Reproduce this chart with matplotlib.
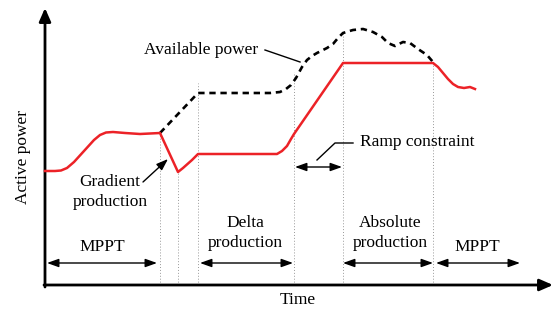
import matplotlib
matplotlib.use("Agg")
import matplotlib.pyplot as plt

# schematic units: t = time, p = active power (1 unit ~ 1 px)
red_t = [0, 10, 16, 22, 29, 39, 49, 55, 61, 68, 80, 95, 105, 115, 133, 138, 147, 153,
         232, 237, 242, 246, 249, 298, 388, 393, 398, 403, 408, 413, 419, 425, 430]
red_p = [114, 114, 114.5, 117, 123, 134, 145, 150, 152.5, 153, 152, 151, 151.5, 152, 113, 117, 125, 131,
         131, 134, 139, 146, 151, 222, 222, 218, 212, 206, 201, 198, 197, 198, 196]

avail_t = [115, 153, 225, 235, 241, 246, 251, 257, 262, 267, 272, 282, 288, 293, 298, 308,
           318, 328, 337, 343, 350, 358, 365, 373, 382, 388]
avail_p = [152, 192, 192, 193, 196, 200, 207, 218, 225, 229, 232, 237, 241, 247, 252, 255,
           256, 253, 248, 242, 239, 243, 242, 236, 230, 223]

# vertical dotted markers (time, top)
mark_t = [115, 133, 153, 249, 298, 388]
mark_top = [152, 113, 202, 213, 253, 223]

# operating mode spans
zone_labels = ["MPPT", "Delta\nproduction", "Absolute\nproduction", "MPPT"]
zone_start = [2, 155, 298, 391]
zone_end = [112, 248, 388, 475]
zone_center = [57, 200, 345, 432]

fig = plt.figure(figsize=(5.54, 3.11), dpi=100)
ax = fig.add_axes([0, 0, 1, 1])
ax.set_xlim(-45, 509)
ax.set_ylim(-26, 285)
ax.axis("off")

font = dict(family="Liberation Serif", fontsize=12.5, color="black")

# axes arrows
ax.annotate("", xy=(0, 277), xytext=(0, -2),
            arrowprops=dict(arrowstyle="-|>,head_length=0.8,head_width=0.35", lw=2,
                            color="black", shrinkA=0, shrinkB=0, mutation_scale=10))
ax.annotate("", xy=(508, 0), xytext=(-1, 0),
            arrowprops=dict(arrowstyle="-|>,head_length=0.8,head_width=0.35", lw=2,
                            color="black", shrinkA=0, shrinkB=0, mutation_scale=10))
ax.text(-22, 128, "Active power", rotation=90, ha="center", va="center", **font)
ax.text(253, -15, "Time", ha="center", va="center", **font)

# dotted markers
for t, top in zip(mark_t, mark_top):
    ax.plot([t, t], [0, top], color="#999999", lw=0.7, ls=(0, (1, 2)), zorder=1)

# curves
ax.plot(avail_t, avail_p, color="black", lw=1.9, dashes=(2.4, 1.8), zorder=2)
ax.plot(red_t, red_p, color="#ec2227", lw=1.8, zorder=3, solid_joinstyle="round")

# mode spans
arrow2 = dict(arrowstyle="<|-|>,head_length=0.7,head_width=0.25", lw=1.0, color="black",
              shrinkA=0, shrinkB=0, mutation_scale=10)
for s, e in zip(zone_start, zone_end):
    ax.annotate("", xy=(e, 22), xytext=(s, 22), arrowprops=arrow2)
for lab, c in zip(zone_labels, zone_center):
    ax.text(c, 52 if "\n" in lab else 38, lab, ha="center", va="center", linespacing=1.35, **font)

# ramp constraint
ax.annotate("", xy=(297, 118), xytext=(250, 118), arrowprops=arrow2)
ax.plot([272, 290, 308], [125, 142, 142], color="black", lw=1.0)
ax.text(315, 143, "Ramp constraint", ha="left", va="center", **font)

# available power label
ax.plot([220, 255], [235, 223], color="black", lw=1.0)
ax.text(99, 235, "Available power", ha="left", va="center", **font)

# gradient production
ax.annotate("", xy=(123, 126), xytext=(98, 103),
            arrowprops=dict(arrowstyle="-|>,head_length=0.7,head_width=0.25", lw=1.0,
                            color="black", shrinkA=0, shrinkB=0, mutation_scale=10))
ax.text(65, 93, "Gradient\nproduction", ha="center", va="center", linespacing=1.35, **font)

fig.savefig("out.png", dpi=100)
